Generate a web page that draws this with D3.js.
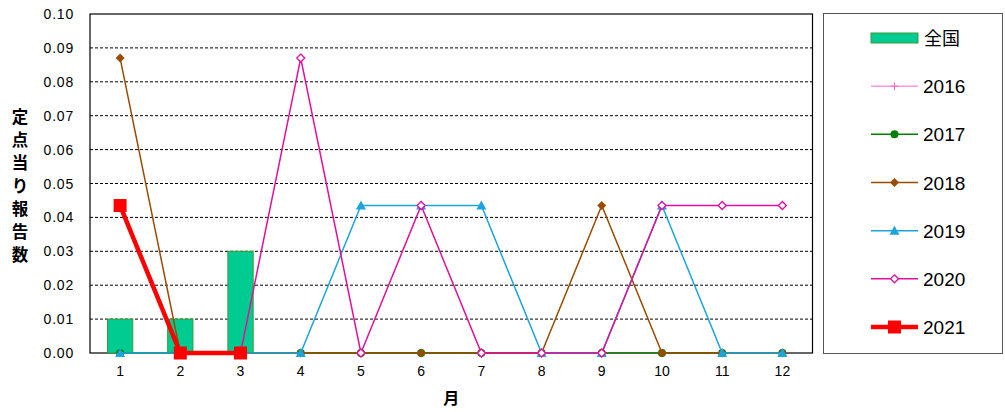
<!DOCTYPE html>
<html>
<head>
<meta charset="utf-8">
<script src="https://cdn.jsdelivr.net/npm/d3@7"></script>
<style>
  body { margin: 0; background: #fff; }
  svg { font-family: "Liberation Sans", Arial, sans-serif; }
</style>
</head>
<body>
<svg id="chart" width="1005" height="412"></svg>
<script>
// chart values
const months = [1, 2, 3, 4, 5, 6, 7, 8, 9, 10, 11, 12];
const yTicks = [0, 0.01, 0.02, 0.03, 0.04, 0.05, 0.06, 0.07, 0.08, 0.09, 0.10];
const national = [0.01, 0.01, 0.03, 0, 0, 0, 0, 0, 0, 0, 0, 0];
const y2016 = [0, 0, 0, 0, 0, 0, 0, 0, 0, 0, 0, 0];
const y2017 = [0, 0, 0, 0, 0, 0, 0, 0, 0, 0, 0, 0];
const y2018 = [0.087, 0, 0, 0, 0, 0, 0, 0, 0.0435, 0, 0, 0];
const y2019 = [0, 0, 0, 0, 0.0435, 0.0435, 0.0435, 0, 0, 0.0435, 0, 0];
const y2020 = [null, 0, 0, 0.087, 0, 0.0435, 0, 0, 0, 0.0435, 0.0435, 0.0435];
const y2021 = [0.0435, 0, 0, null, null, null, null, null, null, null, null, null];

const series = [
  { name: '2016', values: y2016, color: '#FF66CC', width: 1, marker: 'plus' },
  { name: '2017', values: y2017, color: '#008000', width: 1.5, marker: 'circle' },
  { name: '2018', values: y2018, color: '#994C00', width: 1.5, marker: 'diamond' },
  { name: '2019', values: y2019, color: '#1CA4DC', width: 1.5, marker: 'triangle' },
  { name: '2020', values: y2020, color: '#E0109C', width: 1.5, marker: 'diamondOpen' },
  { name: '2021', values: y2021, color: '#FF0000', width: 4.5, marker: 'square' }
];

const svg = d3.select('#chart');
const margin = { left: 90, right: 812.5, top: 14, bottom: 353 };

const x = d3.scaleBand().domain(months).range([margin.left, margin.right]);
const y = d3.scaleLinear().domain([0, 0.1]).range([margin.bottom, margin.top]);

// grid lines
svg.append('g').selectAll('line')
    .data(yTicks.slice(1, -1))
    .enter().append('line')
    .attr('x1', margin.left).attr('x2', margin.right)
    .attr('y1', d => y(d)).attr('y2', d => y(d))
    .attr('stroke', '#000')
    .attr('stroke-width', 1)
    .attr('stroke-dasharray', '3,2');

// plot frame
svg.append('rect')
    .attr('x', margin.left).attr('y', margin.top)
    .attr('width', margin.right - margin.left)
    .attr('height', margin.bottom - margin.top)
    .attr('fill', 'none')
    .attr('stroke', '#000')
    .attr('stroke-width', 1.2);

// y tick labels
svg.append('g').selectAll('text')
    .data(yTicks)
    .enter().append('text')
    .attr('x', 74).attr('y', d => y(d) + 5)
    .attr('text-anchor', 'end')
    .attr('font-size', 14)
    .attr('letter-spacing', 0.8)
    .attr('fill', '#000')
    .text(d => d.toFixed(2));

// x tick labels
svg.append('g').selectAll('text')
    .data(months)
    .enter().append('text')
    .attr('x', d => x(d) + x.bandwidth() / 2)
    .attr('y', 376)
    .attr('text-anchor', 'middle')
    .attr('font-size', 14)
    .attr('fill', '#000')
    .text(d => d);

// axis titles
svg.append('text')
    .attr('x', x(6) + x.bandwidth())
    .attr('y', 404)
    .attr('text-anchor', 'middle')
    .attr('font-size', 16)
    .attr('font-weight', 'bold')
    .attr('font-family', '"Noto Sans CJK JP", sans-serif')
    .text('月');

svg.append('g').selectAll('text')
    .data('定点当り報告数'.split(''))
    .enter().append('text')
    .attr('x', 20)
    .attr('y', (d, i) => 123 + i * 23)
    .attr('text-anchor', 'middle')
    .attr('font-size', 16.5)
    .attr('font-weight', 'bold')
    .attr('font-family', '"Noto Sans CJK JP", sans-serif')
    .text(d => d);

// national bars
const barW = x.bandwidth() * 0.42;
svg.append('g').selectAll('rect')
    .data(national.map((v, i) => ({ m: months[i], v: v })).filter(d => d.v > 0))
    .enter().append('rect')
    .attr('x', d => x(d.m) + x.bandwidth() / 2 - barW / 2)
    .attr('y', d => y(d.v))
    .attr('width', barW)
    .attr('height', d => y(0) - y(d.v))
    .attr('fill', '#00CC91')
    .attr('stroke', '#3A9A3A')
    .attr('stroke-width', 1);

function drawMarker(g, type, cx, cy, color) {
  const dia = r => `M${cx},${cy - r}L${cx + r},${cy}L${cx},${cy + r}L${cx - r},${cy}Z`;
  if (type === 'plus') {
    g.append('path')
        .attr('d', `M${cx - 4},${cy}H${cx + 4}M${cx},${cy - 4}V${cy + 4}`)
        .attr('stroke', color).attr('stroke-width', 1);
  } else if (type === 'circle') {
    g.append('circle').attr('cx', cx).attr('cy', cy).attr('r', 4).attr('fill', color);
  } else if (type === 'diamond') {
    g.append('path').attr('d', dia(4.5)).attr('fill', color);
  } else if (type === 'diamondOpen') {
    g.append('path').attr('d', dia(4))
        .attr('fill', '#fff').attr('stroke', color).attr('stroke-width', 1.3);
  } else if (type === 'triangle') {
    g.append('path').attr('d', `M${cx},${cy - 5}L${cx + 5},${cy + 4}L${cx - 5},${cy + 4}Z`)
        .attr('fill', color);
  } else if (type === 'square') {
    g.append('rect').attr('x', cx - 6.5).attr('y', cy - 6.5).attr('width', 13).attr('height', 13)
        .attr('fill', color);
  }
}

// series lines
const line = d3.line()
    .defined(d => d.v !== null)
    .x(d => x(d.m) + x.bandwidth() / 2)
    .y(d => y(d.v));

series.forEach(s => {
  const pts = s.values.map((v, i) => ({ m: months[i], v: v }));
  const g = svg.append('g');
  g.append('path')
      .datum(pts)
      .attr('d', line)
      .attr('fill', 'none')
      .attr('stroke', s.color)
      .attr('stroke-width', s.width);
  pts.filter(d => d.v !== null).forEach(d => {
    drawMarker(g, s.marker, x(d.m) + x.bandwidth() / 2, y(d.v), s.color);
  });
});

// legend
const legend = svg.append('g');
legend.append('rect')
    .attr('x', 823.5).attr('y', 13.5)
    .attr('width', 179).attr('height', 340)
    .attr('fill', '#fff')
    .attr('stroke', '#555')
    .attr('stroke-width', 1);

const legendY = d3.scalePoint().domain(['全国'].concat(series.map(s => s.name))).range([38, 327]);

legend.append('rect')
    .attr('x', 871).attr('y', legendY('全国') - 5)
    .attr('width', 47).attr('height', 10)
    .attr('fill', '#00CC91')
    .attr('stroke', '#3A9A3A');
legend.append('text')
    .attr('x', 924).attr('y', legendY('全国') + 7)
    .attr('font-size', 18)
    .attr('font-family', '"Noto Sans CJK JP", sans-serif')
    .text('全国');

series.forEach(s => {
  const ly = legendY(s.name);
  legend.append('line')
      .attr('x1', 871).attr('x2', 918)
      .attr('y1', ly).attr('y2', ly)
      .attr('stroke', s.color)
      .attr('stroke-width', s.width);
  drawMarker(legend, s.marker, 894.5, ly, s.color);
  legend.append('text')
      .attr('x', 923).attr('y', ly + 7)
      .attr('font-size', 19)
      .text(s.name);
});
</script>
</body>
</html>
